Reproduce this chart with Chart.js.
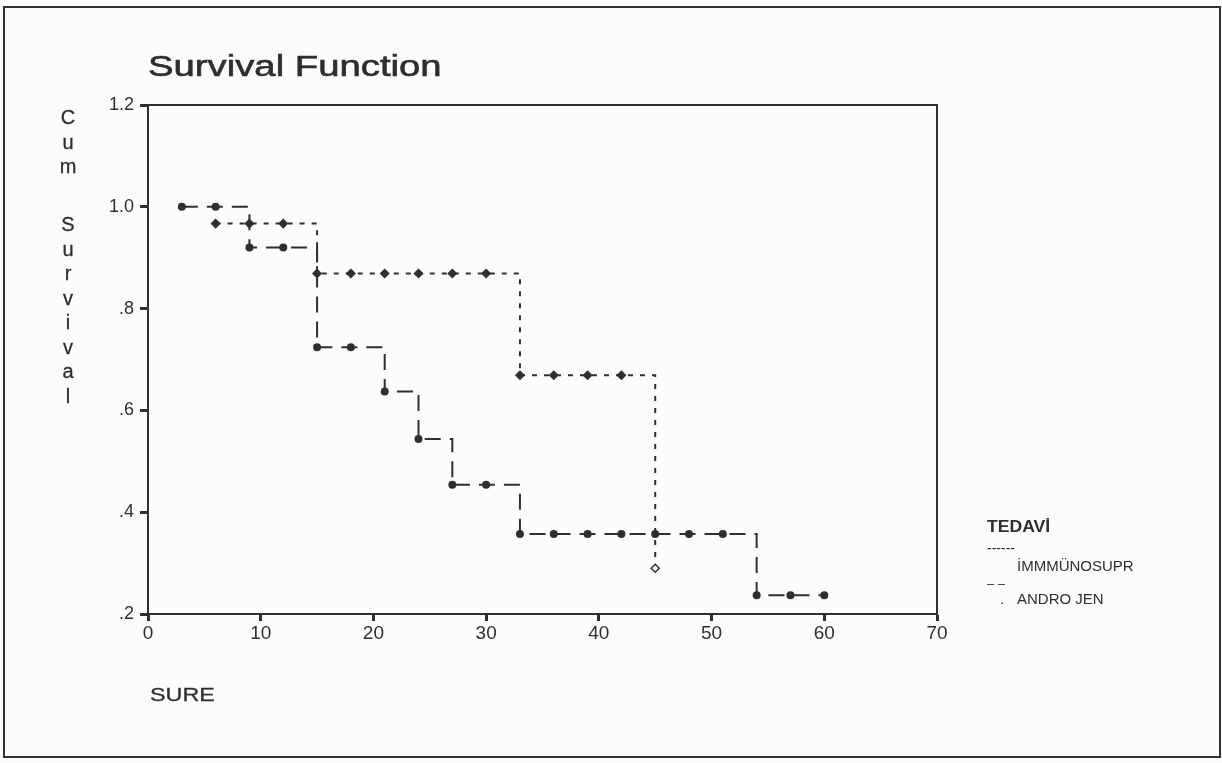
<!DOCTYPE html>
<html>
<head>
<meta charset="utf-8">
<title>Survival Function</title>
<script src="https://cdn.jsdelivr.net/npm/chart.js@4/dist/chart.umd.min.js"></script>
<style>
  html, body { margin: 0; padding: 0; background: #fcfcfb; }
  #wrap { position: relative; width: 1222px; height: 763px; overflow: hidden; font-family: "Liberation Sans", Arial, sans-serif; color: #2e2e2e; }
  #frame { position: absolute; left: 3px; top: 6px; width: 1214px; height: 748px; border: 2px solid #333; }
  .txt { position: absolute; white-space: nowrap; line-height: 1; transform-origin: 0 0; }
  #title { left: 148px; top: 52px; font-size: 29px; transform: scaleX(1.32); -webkit-text-stroke: 0.6px #2e2e2e; }
  #xtitle { left: 150px; top: 685px; font-size: 19px; transform: scaleX(1.23); -webkit-text-stroke: 0.3px #2e2e2e; }
  .ycol { position: absolute; left: 58px; width: 20px; text-align: center; font-size: 20px; line-height: 24.5px; -webkit-text-stroke: 0.3px #2e2e2e; }
  #legTitle { left: 987px; top: 519px; font-size: 16px; font-weight: bold; transform: scaleX(1.1); }
</style>
</head>
<body>
<div id="wrap">
  <canvas id="chart" width="1222" height="763"></canvas>
  <div id="frame"></div>
  <div class="txt" id="title">Survival Function</div>
  <div class="ycol" style="top:105px">C<br>u<br>m</div>
  <div class="ycol" style="top:212px">S<br>u<br>r<br>v<br>i<br>v<br>a<br>l</div>
  <div class="txt" id="xtitle">SURE</div>
  <div class="txt" id="legTitle">TEDAVİ</div>
  <div class="txt" style="left:987px;top:541px;font-size:14px">------</div>
  <div class="txt" style="left:1017px;top:558px;font-size:15px">İMMMÜNOSUPR</div>
  <div class="txt" style="left:987px;top:577px;font-size:13px">– –</div>
  <div class="txt" style="left:1000px;top:591px;font-size:15px">.</div>
  <div class="txt" style="left:1017px;top:591px;font-size:15px">ANDRO JEN</div>
</div>
<script>
// survival times (SURE) and cumulative survival
const immTimes = [6, 9, 12, 15, 18, 21, 24, 27, 30, 33, 36, 39, 42, 45];
const immSurv  = [0.967, 0.967, 0.967, 0.869, 0.869, 0.869, 0.869, 0.869, 0.869, 0.669, 0.669, 0.669, 0.669, 0.290];

const andTimes = [3, 6, 9, 12, 15, 18, 21, 24, 27, 30, 33, 36, 39, 42, 45, 48, 51, 54, 57, 60];
const andSurv  = [1.0, 1.0, 0.920, 0.920, 0.724, 0.724, 0.637, 0.544, 0.454, 0.454, 0.357, 0.357, 0.357, 0.357, 0.357, 0.357, 0.357, 0.237, 0.237, 0.237];

const xTicks = [0, 10, 20, 30, 40, 50, 60, 70];
const yTicks = [0.2, 0.4, 0.6, 0.8, 1.0, 1.2];
const yTickLabels = ['.2', '.4', '.6', '.8', '1.0', '1.2'];

const ink = '#2f2f2f';

function toPoints(times, surv) {
    return times.map((t, i) => ({ x: t, y: surv[i] }));
}

// top and right edges of the plot box
const boxPlugin = {
    id: 'box',
    beforeDatasetsDraw(chart) {
        const a = chart.chartArea;
        const ctx = chart.ctx;
        ctx.save();
        ctx.strokeStyle = ink;
        ctx.lineWidth = 2;
        ctx.beginPath();
        ctx.moveTo(a.left, a.top);
        ctx.lineTo(a.right, a.top);
        ctx.lineTo(a.right, a.bottom);
        ctx.stroke();
        ctx.restore();
    }
};

const lastImm = immTimes.length - 1;

new Chart(document.getElementById('chart'), {
    type: 'line',
    data: {
        datasets: [
            {
                label: 'İMMMÜNOSUPR',
                data: toPoints(immTimes, immSurv),
                stepped: 'before',
                borderColor: ink,
                borderWidth: 2,
                borderDash: [5, 7],
                pointStyle: 'rectRot',
                pointRadius: 4,
                pointBorderColor: ink,
                pointBorderWidth: 1.5,
                pointBackgroundColor: c => c.dataIndex === lastImm ? '#fcfcfb' : ink,
                fill: false
            },
            {
                label: 'ANDRO JEN',
                data: toPoints(andTimes, andSurv),
                stepped: 'before',
                borderColor: ink,
                borderWidth: 2,
                borderDash: [16, 9],
                pointStyle: 'circle',
                pointRadius: 3,
                pointBorderColor: ink,
                pointBackgroundColor: ink,
                fill: false
            }
        ]
    },
    options: {
        responsive: false,
        animation: false,
        layout: { padding: { left: 100, right: 285, top: 105, bottom: 109 } },
        plugins: {
            legend: { display: false },
            tooltip: { enabled: false },
            title: { display: false }
        },
        scales: {
            x: {
                type: 'linear',
                min: 0,
                max: 70,
                afterFit: s => { s.height = 40; },
                afterBuildTicks: s => { s.ticks = xTicks.map(v => ({ value: v })); },
                border: { color: ink, width: 2 },
                grid: { drawOnChartArea: false, tickLength: 7, tickWidth: 3, tickColor: ink },
                ticks: {
                    color: ink,
                    padding: 1,
                    maxRotation: 0,
                    font: { family: '"Liberation Sans", Arial, sans-serif', size: 19 }
                }
            },
            y: {
                type: 'linear',
                min: 0.2,
                max: 1.2,
                afterFit: s => { s.width = 48; },
                afterBuildTicks: s => { s.ticks = yTicks.map(v => ({ value: v })); },
                border: { color: ink, width: 2 },
                grid: { drawOnChartArea: false, tickLength: 8, tickWidth: 3, tickColor: ink },
                ticks: {
                    color: ink,
                    padding: 6,
                    font: { family: '"Liberation Sans", Arial, sans-serif', size: 18 },
                    callback: v => {
                        const i = yTicks.findIndex(t => Math.abs(t - v) < 1e-6);
                        return i >= 0 ? yTickLabels[i] : '';
                    }
                }
            }
        }
    },
    plugins: [boxPlugin]
});
</script>
</body>
</html>
